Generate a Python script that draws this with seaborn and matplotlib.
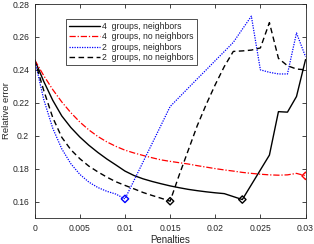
import numpy as np
import pandas as pd
import matplotlib
matplotlib.use("Agg")
import matplotlib.pyplot as plt
import seaborn as sns

penalties = [0.000, 0.001, 0.002, 0.003, 0.004, 0.005, 0.006, 0.007, 0.008, 0.009,
             0.010, 0.011, 0.012, 0.013, 0.014, 0.015, 0.016, 0.017, 0.018, 0.019,
             0.020, 0.021, 0.022, 0.023, 0.024, 0.025, 0.026, 0.027, 0.028, 0.029, 0.030]

g4_neighbors = [0.2460, 0.2330, 0.2215, 0.2120, 0.2050, 0.1992, 0.1942, 0.1898, 0.1858, 0.1822,
                0.1785, 0.1758, 0.1738, 0.1722, 0.1708, 0.1695, 0.1684, 0.1674, 0.1666, 0.1659,
                0.1653, 0.1648, 0.1630, 0.1612, 0.1702, 0.1792, 0.1882, 0.2146, 0.2143, 0.2238, 0.2462]

g4_no_neighbors = [0.2460, 0.2365, 0.2280, 0.2205, 0.2140, 0.2083, 0.2035, 0.1995, 0.1962, 0.1935,
                   0.1912, 0.1895, 0.1880, 0.1866, 0.1853, 0.1844, 0.1836, 0.1828, 0.1818, 0.1809,
                   0.1800, 0.1792, 0.1785, 0.1777, 0.1771, 0.1766, 0.1762, 0.1760, 0.1762, 0.1771, 0.1756]

g2_neighbors = [0.2460, 0.2220, 0.2045, 0.1920, 0.1830, 0.1765, 0.1718, 0.1685, 0.1662, 0.1645,
                0.1616, 0.1728, 0.1840, 0.1952, 0.2064, 0.2177, 0.2233, 0.2289, 0.2345, 0.2400,
                0.2456, 0.2511, 0.2567, 0.2647, 0.2726, 0.2400, 0.2385, 0.2375, 0.2375, 0.2624, 0.2480]

g2_no_neighbors = [0.2460, 0.2275, 0.2110, 0.1990, 0.1915, 0.1860, 0.1815, 0.1780, 0.1748, 0.1720,
                   0.1698, 0.1677, 0.1655, 0.1637, 0.1620, 0.1602, 0.1760, 0.1910, 0.2060, 0.2190,
                   0.2310, 0.2420, 0.2512, 0.2515, 0.2520, 0.2533, 0.2687, 0.2470, 0.2425, 0.2405, 0.2400]

labels = ["4  groups, neighbors", "4  groups, no neighbors",
          "2  groups, neighbors", "2  groups, no neighbors"]

min_x = [0.023, 0.030, 0.010, 0.015]
min_y = [0.1612, 0.1756, 0.1616, 0.1602]

x_ticks = [0, 0.005, 0.01, 0.015, 0.02, 0.025, 0.03]
x_tick_labels = ["0", "0.005", "0.01", "0.015", "0.02", "0.025", "0.03"]
y_ticks = [0.16, 0.18, 0.2, 0.22, 0.24, 0.26, 0.28]
y_tick_labels = ["0.16", "0.18", "0.2", "0.22", "0.24", "0.26", "0.28"]

sns.set_style("white")
plt.rcParams["font.family"] = ["Liberation Sans", "DejaVu Sans"]

fig = plt.figure(figsize=(3.14, 2.44), dpi=100)
ax = fig.add_axes([0.1105, 0.1066, 0.8625, 0.877])

series = [g4_neighbors, g4_no_neighbors, g2_neighbors, g2_no_neighbors]
colors = ["black", "#ff0000", "#0000ff", "black"]
styles = ["-", (0, (5, 1.5, 1, 1.5)), (0, (1, 1)), (0, (4, 2.5))]
widths = [1.0, 0.9, 0.9, 1.0]

for s, c, ls, lw, lab in zip(series, colors, styles, widths, labels):
    df = pd.DataFrame({"Penalties": penalties, "err": s})
    sns.lineplot(data=df, x="Penalties", y="err", color=c, linestyle=ls,
                 linewidth=lw, label=lab, ax=ax)

for mx, my, c in zip(min_x, min_y, colors):
    sns.scatterplot(x=[mx], y=[my], marker="D", s=14, facecolors="none",
                    edgecolor=c, linewidth=1.0, color=c, ax=ax, legend=False, zorder=5)

ax.set_xlim(0, 0.03)
ax.set_ylim(0.15, 0.28)
ax.set_xticks(x_ticks)
ax.set_xticklabels(x_tick_labels)
ax.set_yticks(y_ticks)
ax.set_yticklabels(y_tick_labels)
ax.tick_params(direction="in", length=3, width=0.6, labelsize=6.2,
               top=True, right=True, bottom=True, left=True, pad=4,
               colors="#262626")
for sp in ax.spines.values():
    sp.set_visible(True)
    sp.set_color("#262626")
    sp.set_linewidth(0.6)

ax.set_xlabel("Penalties", fontsize=7, color="#262626", labelpad=2)
ax.set_ylabel("Relative error", fontsize=6.8, color="#262626", labelpad=1)

leg = ax.legend(loc="upper left", bbox_to_anchor=(0.114, 0.932), fontsize=6.2,
                handlelength=3.6, handletextpad=0.3, labelspacing=0.18,
                borderpad=0.35, frameon=True, fancybox=False, borderaxespad=0)
leg.get_frame().set_edgecolor("black")
leg.get_frame().set_linewidth(0.6)

fig.savefig("out.png", dpi=100)
